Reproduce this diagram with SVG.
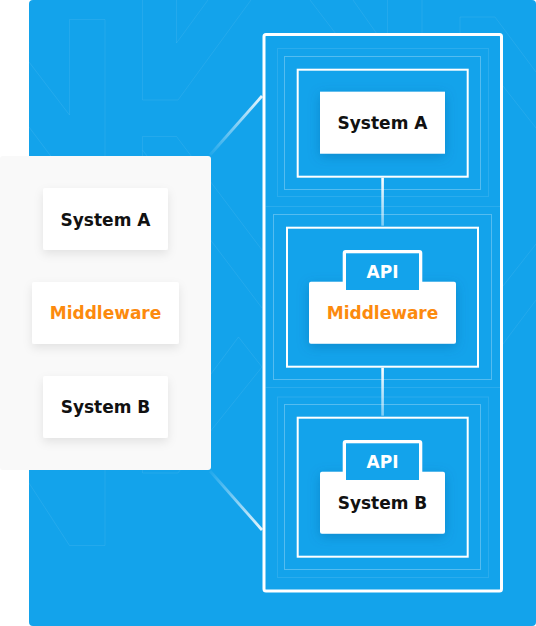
<svg xmlns="http://www.w3.org/2000/svg" width="536" height="626" viewBox="0 0 536 626">
<style>
.t{font-family:"DejaVu Sans","Liberation Sans",sans-serif;font-weight:bold;font-size:17px;text-anchor:middle}
.dk{fill:#111111}
.og{fill:#FC8A0E}
.wt{fill:#ffffff}
.card{fill:#ffffff}
.pat{fill:none;stroke:#ffffff;stroke-opacity:.075;stroke-width:1}
.frame{fill:none;stroke:#ffffff;stroke-width:2}
.ring{fill:none;stroke:#ffffff;stroke-opacity:.28;stroke-width:1}
.ring2{fill:none;stroke:#ffffff;stroke-opacity:.1;stroke-width:1}
.blue{fill:#13A3EB}
</style>
<defs>
<filter id="shL" x="-30%" y="-30%" width="160%" height="180%">
<feDropShadow dx="0" dy="4" stdDeviation="5" flood-color="#000000" flood-opacity=".09"/>
</filter>
<filter id="shR" x="-30%" y="-30%" width="160%" height="180%">
<feDropShadow dx="0" dy="3" stdDeviation="6" flood-color="#0a5a96" flood-opacity=".35"/>
</filter>
<linearGradient id="gUp" gradientUnits="userSpaceOnUse" x1="210" y1="155" x2="262" y2="96">
<stop offset="0" stop-color="#fff" stop-opacity="0.05"/>
<stop offset="1" stop-color="#fff" stop-opacity="0.9"/>
</linearGradient>
<linearGradient id="gDn" gradientUnits="userSpaceOnUse" x1="210" y1="471" x2="262" y2="530">
<stop offset="0" stop-color="#fff" stop-opacity="0.05"/>
<stop offset="1" stop-color="#fff" stop-opacity="0.9"/>
</linearGradient>
<linearGradient id="gV" x1="0" y1="0" x2="0" y2="1">
<stop offset="0" stop-color="#fff" stop-opacity="1"/>
<stop offset="1" stop-color="#fff" stop-opacity="0.45"/>
</linearGradient>
</defs>

<!-- background -->
<rect x="29" y="0" width="507" height="626" rx="4" class="blue"/>
<g id="pattern">
<path class="pat" d="M29,62 L69.5,115 V19.5 H105 V545.5 H69.5 L29,483"/>
<path class="pat" d="M29,127 L95,215"/>
<path class="pat" d="M142.5,0 V100 H178 L251,0"/>
<path class="pat" d="M176.5,0 V43 L208,0"/>
<path class="pat" d="M142.5,200 V136.5 H176.5 L262,250"/>
<path class="pat" d="M142.5,150 L262,308"/>
<path class="pat" d="M205,382 L238.5,337 L262,367 L205,438"/>
<path class="pat" d="M142.5,460 V473 H178 L186,462"/>
<path class="pat" d="M310,0 L336,34"/>
<path class="pat" d="M353,0 L377,34"/>
<path class="pat" d="M387.5,0 V34"/>
<path class="pat" d="M422,0 V34"/>
<path class="pat" d="M460,34 V17 H495 L536,72"/>
<path class="pat" d="M503,86 L536,128"/>
<path class="pat" d="M503,286 L536,244"/>
<path class="pat" d="M503,344 L536,300"/>
</g>

<!-- left panel -->
<g id="left-panel">
<rect x="0" y="156" width="211" height="314" rx="3" fill="#F9F9F9"/>
</g>
<g id="left-system-a">
<rect x="43" y="188" width="125" height="62" rx="2" class="card" filter="url(#shL)"/>
<text x="105.5" y="225.7" class="t dk">System A</text>
</g>
<g id="left-middleware">
<rect x="32" y="282" width="147" height="62" rx="2" class="card" filter="url(#shL)"/>
<text x="105.5" y="319" class="t og">Middleware</text>
</g>
<g id="left-system-b">
<rect x="43" y="376" width="125" height="62" rx="2" class="card" filter="url(#shL)"/>
<text x="105.5" y="413.3" class="t dk">System B</text>
</g>

<!-- connectors -->
<g id="connectors">
<line x1="210" y1="155" x2="262" y2="96" stroke="url(#gUp)" stroke-width="2.8"/>
<line x1="210" y1="471" x2="262" y2="530" stroke="url(#gDn)" stroke-width="2.8"/>
<rect x="381.3" y="177.7" width="2.6" height="48" fill="url(#gV)"/>
<rect x="381.3" y="367.7" width="2.6" height="48" fill="url(#gV)"/>
</g>

<!-- right frame -->
<g id="right-frame">
<rect x="264" y="34.5" width="237.5" height="556.5" rx="2" fill="none" stroke="#fff" stroke-width="3"/>
<line x1="265.5" y1="206.5" x2="500" y2="206.5" class="ring2"/>
<line x1="265.5" y1="387.5" x2="500" y2="387.5" class="ring2"/>
</g>

<g id="right-system-a">
<rect x="277.5" y="48.5" width="211" height="148" class="ring2"/>
<rect x="284.5" y="56.5" width="196" height="133" class="ring"/>
<rect x="297.7" y="69.7" width="170" height="107" class="frame"/>
<rect x="320" y="91.7" width="125" height="62" class="card" filter="url(#shR)"/>
<text x="382.5" y="129.3" class="t dk">System A</text>
</g>

<g id="right-middleware">
<rect x="273.5" y="214.5" width="218" height="165" class="ring"/>
<rect x="287" y="227.7" width="191" height="139" class="frame"/>
<rect x="309" y="281.7" width="147" height="62" rx="2" class="card" filter="url(#shR)"/>
<rect x="342.7" y="250" width="79.6" height="41" rx="3" fill="#fff"/>
<rect x="346" y="253.3" width="73" height="36.7" class="blue"/>
<text x="382.5" y="277.7" class="t wt">API</text>
<text x="382.5" y="318.7" class="t og">Middleware</text>
</g>

<g id="right-system-b">
<rect x="277.5" y="397" width="211" height="180.5" class="ring2"/>
<rect x="284.5" y="404.5" width="196" height="165" class="ring"/>
<rect x="297.7" y="417.7" width="170" height="139" class="frame"/>
<rect x="320" y="471.7" width="125" height="62" rx="2" class="card" filter="url(#shR)"/>
<rect x="342.7" y="440" width="79.6" height="41" rx="3" fill="#fff"/>
<rect x="346" y="443.3" width="73" height="36.7" class="blue"/>
<text x="382.5" y="468.3" class="t wt">API</text>
<text x="382.5" y="509" class="t dk">System B</text>
</g>
</svg>
